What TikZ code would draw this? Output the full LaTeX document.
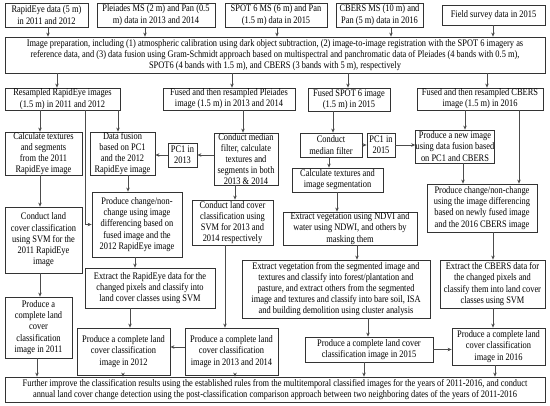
\documentclass[tikz,border=0pt]{standalone}
\usepackage{fontspec}
\setmainfont{Liberation Serif}[FakeStretch=0.84]
\usetikzlibrary{arrows.meta}
\begin{document}
\begin{tikzpicture}[x=1pt,y=-1pt,
  box/.style={draw=black!80, line width=0.8pt, align=center, inner sep=0pt,
    font=\fontsize{10}{11.2}\selectfont, text=black},
  arr/.style={draw=black!70, line width=0.8pt, -{Stealth[length=4pt,width=3.5pt]}},
]
\useasboundingbox[fill=white] (0,0) rectangle (550,406);

% top row
\node[box, minimum width=83pt, minimum height=24pt] (t1) at (46.5,15) {RapidEye data (5 m)\\in 2011 and 2012};
\node[box, minimum width=118pt, minimum height=24pt] (t2) at (156,15) {Pleiades MS (2 m) and Pan (0.5\\m) data in 2013 and 2014};
\node[box, minimum width=102pt, minimum height=24pt] (t3) at (276,15) {SPOT 6 MS (6 m) and Pan\\(1.5 m) data in 2015};
\node[box, minimum width=87pt, minimum height=24pt] (t4) at (379.5,15) {CBERS MS (10 m) and\\Pan (5 m) data in 2016};
\node[box, minimum width=103pt, minimum height=20pt] (t5) at (493.5,15) {Field survey data in 2015};

\node[box, minimum width=540pt, minimum height=36pt] (prep) at (275,55) {Image preparation, including (1) atmospheric calibration using dark object subtraction, (2) image-to-image registration with the SPOT 6 imagery as\\reference data, and (3) data fusion using Gram-Schmidt approach based on multispectral and panchromatic data of Pleiades (4 bands with 0.5 m),\\SPOT6 (4 bands with 1.5 m), and CBERS (3 bands with 5 m), respectively};

% row 2
\node[box, minimum width=115pt, minimum height=22pt] (r1) at (62.5,99) {Resampled RapidEye images\\(1.5 m) in 2011 and 2012};
\node[box, minimum width=132pt, minimum height=22pt] (r2) at (229,99) {Fused and then resampled Pleiades\\image (1.5 m) in 2013 and 2014};
\node[box, minimum width=82pt, minimum height=23pt] (r3) at (349,99.5) {Fused SPOT 6 image\\(1.5 m) in 2015};
\node[box, minimum width=126pt, minimum height=22pt] (r4) at (480,99) {Fused and then resampled CBERS\\image (1.5 m) in 2016};

% row 3
\node[box, minimum width=77pt, minimum height=43pt] (c1) at (43.5,153.5) {Calculate textures\\and segments\\from the 2011\\RapidEye image};
\node[box, minimum width=65pt, minimum height=43pt] (c2) at (122.5,153.5) {Data fusion\\based on PC1\\and the 2012\\RapidEye image};
\node[box, minimum width=29pt, minimum height=24pt] (pc13) at (182.5,155) {PC1 in\\2013};
\node[box, minimum width=64pt, minimum height=52pt] (cm13) at (246,159) {Conduct median\\filter, calculate\\textures and\\segments in both\\2013 \& 2014};
\node[box, minimum width=62pt, minimum height=24pt] (cmf) at (331,145) {Conduct\\median filter};
\node[box, minimum width=28pt, minimum height=24pt] (pc15) at (381,145) {PC1 in\\2015};
\node[box, minimum width=76pt, minimum height=33pt] (newimg) at (455,146.5) {Produce a new image\\using data fusion based\\on PC1 and CBERS};
\node[box, minimum width=91pt, minimum height=24pt] (calc) at (337.5,180) {Calculate textures and\\image segmentation};

% row 4
\node[box, minimum width=77pt, minimum height=66pt] (lc11) at (43.5,240) {Conduct land\\cover classification\\using SVM for the\\2011 RapidEye\\image};
\node[box, minimum width=90pt, minimum height=65pt] (pc12) at (137,224.5) {Produce change/non-\\change using image\\differencing based on\\fused image and the\\2012 RapidEye image};
\node[box, minimum width=81pt, minimum height=45pt] (lc1314) at (232.5,222.5) {Conduct land cover\\classification using\\SVM for 2013 and\\2014 respectively};
\node[box, minimum width=134pt, minimum height=33pt] (ndvi) at (350,228.5) {Extract vegetation using NDVI and\\water using NDWI, and others by\\masking them};
\node[box, minimum width=110pt, minimum height=48pt] (pc16) at (482,208) {Produce change/non-change\\using the image differencing\\based on newly fused image\\and the 2016 CBERS image};

% row 5
\node[box, minimum width=130pt, minimum height=40pt] (erap) at (150,288) {Extract the RapidEye data for the\\changed pixels and classify into\\land cover classes using SVM};
\node[box, minimum width=188pt, minimum height=58pt] (evseg) at (336,289) {Extract vegetation from the segmented image and\\textures and classify into forest/plantation and\\pasture, and extract others from the segmented\\image and textures and classify into bare soil, ISA\\and building demolition using cluster analysis};
\node[box, minimum width=105pt, minimum height=48pt] (ecb) at (492.5,284) {Extract the CBERS data for\\the changed pixels and\\classify them into land cover\\classes using SVM};

% row 6
\node[box, minimum width=67pt, minimum height=61pt] (p11) at (38.5,327.5) {Produce a\\complete land\\cover\\classification\\image in 2011};
\node[box, minimum width=93pt, minimum height=47pt] (p12) at (123.5,351.5) {Produce a complete land\\cover classification\\image in 2012};
\node[box, minimum width=93pt, minimum height=47pt] (p1314) at (231.5,351.5) {Produce a complete land\\cover classification\\image in 2013 and 2014};
\node[box, minimum width=128pt, minimum height=25pt] (p15) at (369,349.5) {Produce a complete land cover\\classification image in 2015};
\node[box, minimum width=93pt, minimum height=37pt] (p16) at (498.5,346.5) {Produce a complete land\\cover classification\\image in 2016};

\node[box, minimum width=540pt, minimum height=25pt] (final) at (275,389.5) {Further improve the classification results using the established rules from the multitemporal classified images for the years of 2011-2016, and conduct\\annual land cover change detection using the post-classification comparison approach between two neighboring dates of the years of 2011-2016};

% connectors: top to prep
\draw[arr] (t1.south -| 48,0) -- (prep.north -| 48,0);
\draw[arr] (t2.south -| 145,0) -- (prep.north -| 145,0);
\draw[arr] (t3.south -| 277,0) -- (prep.north -| 277,0);
\draw[arr] (t4.south -| 391,0) -- (prep.north -| 391,0);
\draw[arr] (t5.south -| 493,0) -- (prep.north -| 493,0);
% prep to row 2
\draw[arr] (prep.south -| 57,0) -- (r1.north -| 57,0);
\draw[arr] (prep.south -| 232,0) -- (r2.north -| 232,0);
\draw[arr] (prep.south -| 348,0) -- (r3.north -| 348,0);
\draw[arr] (prep.south -| 487,0) -- (r4.north -| 487,0);
% row 2 to row 3
\draw[arr] (r1.south -| 40,0) -- (c1.north -| 40,0);
\draw[arr] (r1.south -| 118,0) -- (c2.north -| 118,0);
\draw[arr] (r1.south -| 85,0) |- (pc12.west);
\draw[arr] (r2.south -| 243,0) -- (cm13.north -| 243,0);
\draw[arr] (r3.south -| 333,0) -- (cmf.north -| 333,0);
\draw[arr] (r4.south -| 465,0) -- (newimg.north -| 465,0);
\draw[arr] (r4.south -| 519,0) -- (pc16.north -| 519,0);
% row 3 horizontal
\draw[arr] (cm13.west |- pc13.east) -- (pc13.east);
\draw[arr] (pc13.west) -- (pc13.west -| c2.east);
\draw[arr] (cmf.east) -- (pc15.west);
\draw[arr] (pc15.east) -- (pc15.east -| newimg.west);
\draw[arr] (cmf.south -| 329,0) -- (calc.north -| 329,0);
\draw[arr] (newimg.south -| 463,0) -- (pc16.north -| 463,0);
% row 3 to row 4
\draw[arr] (c1.south -| 40,0) -- (lc11.north -| 40,0);
\draw[arr] (c2.south -| 128,0) -- (pc12.north -| 128,0);
\draw[arr] (cm13.south -| 235,0) -- (lc1314.north -| 235,0);
\draw[arr] (calc.south -| 337,0) -- (ndvi.north -| 337,0);
% row 4 to row 5/6
\draw[arr] (lc11.south -| 40,0) -- (p11.north -| 40,0);
\draw[arr] (pc12.south -| 135,0) -- (erap.north -| 135,0);
\draw[arr] (ndvi.south -| 357,0) -- (evseg.north -| 357,0);
\draw[arr] (pc16.south -| 493,0) -- (ecb.north -| 493,0);
\draw[arr] (lc1314.south -| 225,0) -- (p1314.north -| 225,0);
% row 5 to row 6
\draw[arr] (erap.south -| 130,0) -- (p12.north -| 130,0);
\draw[arr] (evseg.south -| 368,0) -- (p15.north -| 368,0);
\draw[arr] (ecb.south -| 493,0) -- (p16.north -| 493,0);
\draw[arr] (p1314.west |- 0,347) -- (p12.east |- 0,347);
\draw[arr] (p15.east) -- (p15.east -| p16.west);
% row 6 to final
\draw[arr] (p11.south -| 37,0) -- (final.north -| 37,0);
\draw[arr] (p12.south -| 123,0) -- (final.north -| 123,0);
\draw[arr] (p1314.south -| 235,0) -- (final.north -| 235,0);
\draw[arr] (p15.south -| 364,0) -- (final.north -| 364,0);
\draw[arr] (p16.south -| 495,0) -- (final.north -| 495,0);
\end{tikzpicture}
\end{document}
